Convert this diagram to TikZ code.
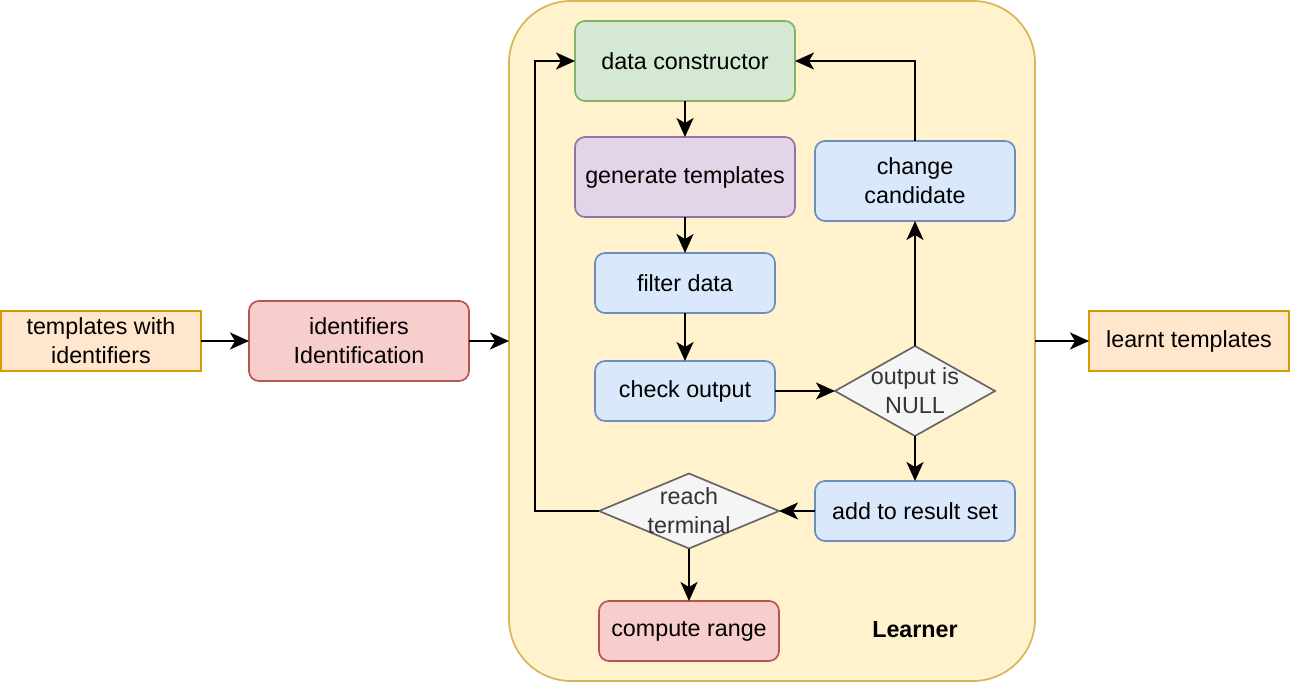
\documentclass[tikz,border=0pt]{standalone}
\usepackage{fontspec}
\setmainfont{Liberation Sans}
\usetikzlibrary{arrows.meta,shapes.geometric}
\definecolor{cfill}{HTML}{FFF2CC}\definecolor{cdraw}{HTML}{D6B656}
\definecolor{gfill}{HTML}{D5E8D4}\definecolor{gdraw}{HTML}{82B366}
\definecolor{pfill}{HTML}{E1D5E7}\definecolor{pdraw}{HTML}{9673A6}
\definecolor{bfill}{HTML}{DAE8FC}\definecolor{bdraw}{HTML}{6C8EBF}
\definecolor{rfill}{HTML}{F8CECC}\definecolor{rdraw}{HTML}{B85450}
\definecolor{ofill}{HTML}{FFE6CC}\definecolor{odraw}{HTML}{D79B00}
\definecolor{dfill}{HTML}{F5F5F5}\definecolor{ddraw}{HTML}{666666}
\definecolor{dtext}{HTML}{333333}
\tikzset{
  base/.style={inner sep=0pt, outer sep=0pt, line width=1.7pt, align=center,
    font=\fontsize{23.3}{29}\selectfont},
  rbox/.style={base, rounded corners=10pt, draw},
  green/.style={rbox, fill=gfill, draw=gdraw},
  purple/.style={rbox, fill=pfill, draw=pdraw},
  blue/.style={rbox, fill=bfill, draw=bdraw},
  red/.style={rbox, fill=rfill, draw=rdraw},
  orange/.style={base, fill=ofill, draw=odraw},
  dia/.style={base, shape=diamond, fill=dfill, draw=ddraw},
  diatext/.style={base, text=dtext},
  arr/.style={line width=2pt, -{Stealth[length=19pt,width=17pt,inset=5pt]}},
}
\begin{document}
\begin{tikzpicture}[x=1pt,y=-1pt]
\useasboundingbox (0,0) rectangle (1290,684);
\node[base, draw=cdraw, fill=cfill, rounded corners=62pt, minimum width=526pt, minimum height=680pt] (learner) at (772,341) {};
\node[base, font=\fontsize{23.3}{29}\selectfont\bfseries] (lbl) at (915,630) {Learner};
\node[green, minimum width=220pt, minimum height=80pt] (dc) at (685,61) {data constructor};
\node[purple, minimum width=220pt, minimum height=80pt] (gt) at (685,177) {generate templates};
\node[blue, minimum width=200pt, minimum height=80pt] (cc) at (915,181) {change\\candidate};
\node[blue, minimum width=180pt, minimum height=60pt] (fd) at (685,283) {filter data};
\node[blue, minimum width=180pt, minimum height=60pt] (co) at (685,391) {check output};
\node[dia, minimum width=160pt, minimum height=90pt] (d1) at (915,391) {};
\node[diatext] (d1t) at (915,391) {output is\\NULL};
\node[blue, minimum width=200pt, minimum height=60pt] (ar) at (915,511) {add to result set};
\node[dia, minimum width=180pt, minimum height=75pt] (d2) at (689,511) {};
\node[diatext] (d2t) at (689,511) {reach\\terminal};
\node[red, minimum width=180pt, minimum height=60pt] (cr) at (689,631) {compute range};
\node[orange, minimum width=200pt, minimum height=60pt] (tw) at (101,341) {templates with\\identifiers};
\node[red, minimum width=220pt, minimum height=80pt] (ii) at (359,341) {identifiers\\Identification};
\node[orange, minimum width=200pt, minimum height=60pt] (lt) at (1189,341) {learnt templates};
\draw[arr] (tw.east) -- (ii.west);
\draw[arr] (ii.east) -- (learner.west);
\draw[arr] (learner.east) -- (lt.west);
\draw[arr] (dc.south) -- (gt.north);
\draw[arr] (gt.south) -- (fd.north);
\draw[arr] (fd.south) -- (co.north);
\draw[arr] (co.east) -- (d1.west);
\draw[arr] (d1.north) -- (cc.south);
\draw[arr] (cc.north) |- (dc.east);
\draw[arr] (d1.south) -- (ar.north);
\draw[arr] (ar.west) -- (d2.east);
\draw[arr] (d2.west) -- ++(-64,0) |- (dc.west);
\draw[arr] (d2.south) -- (cr.north);
\end{tikzpicture}
\end{document}
